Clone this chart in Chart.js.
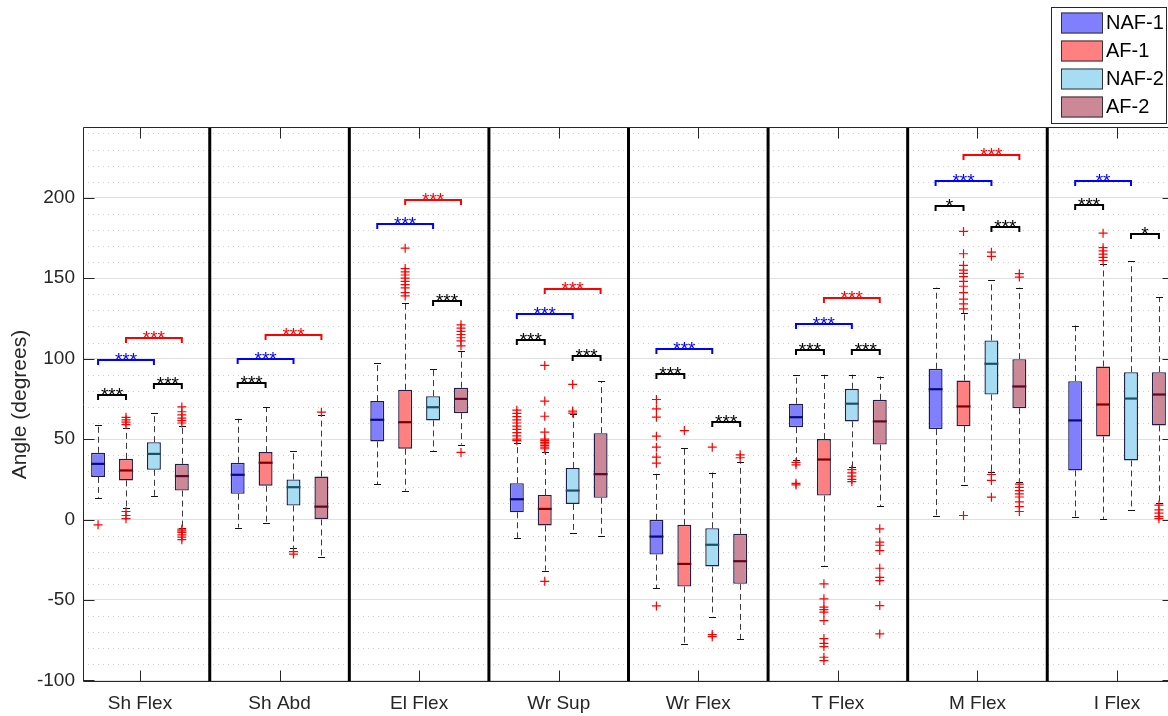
<!DOCTYPE html>
<html><head><meta charset="utf-8">
<script src="https://cdn.jsdelivr.net/npm/chart.js@4.4.1/dist/chart.umd.min.js"></script>
<style>
html,body{margin:0;padding:0;overflow:hidden;background:#fff;}
#wrap{position:relative;width:1180px;height:716px;}
</style></head><body>
<div id="wrap"><canvas id="c" width="1180" height="716"></canvas></div>
<script>
const categories = ['Sh Flex','Sh Abd','El Flex','Wr Sup','Wr Flex','T Flex','M Flex','I Flex'];
const groupNames = ['NAF-1','AF-1','NAF-2','AF-2'];
const yTickValues = [-100,-50,0,50,100,150,200];

// [lower whisker, Q1, median, Q3, upper whisker] per category
const naf1Stats = [
  [13.5,26.5,34.6,41.5,58.9],[-5,16,27.8,35.3,62.6],[22,48.5,62,73.6,97.2],[-11.4,4.5,12.6,22.6,47.5],
  [-42.7,-21.8,-10.6,-0.2,28.4],[37,57.4,63.6,72,90],[2.1,56.2,81,93.7,144.1],[1.5,30.5,61.6,86,120.6]];
const af1Stats = [
  [7,24.3,30.5,37.7,57],[-2,21,35.3,41.9,69.8],[18,44,60.5,80.7,134.8],[-31.7,-3.7,6.6,15.3,42.1],
  [-77.3,-41.7,-27.6,-3.3,44.6],[-28.8,14.9,37.3,50,90],[21.6,58,70.3,86.4,128.3],[0.4,51.6,71.5,95.1,159]];
const naf2Stats = [
  [14.5,30.9,40.8,48.1,66.4],[-18,8.7,20.1,24.9,42.9],[42.3,61.6,69.8,76.7,93.7],[-8.5,9.7,18,32.1,65.3],
  [-60.3,-29.2,-15.7,-5.4,29.2],[32.5,61,72,81.3,90],[29.4,77.7,96.8,111.3,148.6],[6.2,36.7,75.2,91.6,160.4]];
const af2Stats = [
  [-5,18,27,34.6,58],[-23,0,8,26.7,64.7],[46.6,66.1,75,81.9,104.5],[-10,13.5,28.2,53.7,85.8],
  [-74.2,-40,-25.9,-8.9,35.6],[8.1,46.6,61,74.4,88.9],[23.2,69.2,82.7,99.7,144.1],[10,58.5,77.7,91.6,138.3]];

const naf1Outliers = [[-3.3],[],[],[49,50,52,54,56,58,60,62,64,66,68],
  [74.6,68.8,63.6,51.8,45,38.8,35,-53.7],[35.5,34,22.5,21.5],[],[]];
const af1Outliers = [[59,60.5,62,63.5,5,2.5,0.5],[],[168.7,156,154,152,150,148,146,144,141,139],
  [95.8,73.6,64.2,54.3,50,49,48,47,46,45,44,-38.4],[55.3],
  [-40,-49.3,-54.5,-56,-57.6,-62.8,-74,-77,-79,-85.6,-87.7],
  [179.1,165.2,158,155,153,151,148,145,141,137,134,131,2.5],[178,169,167,165,163,161]];
const naf2Outliers = [[],[-20,-21.5],[],[84,67.4,66.2],[45,-71.5,-72.8],[31,29,27,25,23.5],
  [166.2,163.6,28,24.3,13.9],[]];
const af2Outliers = [[60,61.5,63,65,67,70,-6,-7,-8,-9.5,-11,-12.5],[66.7],[121,119,117,115,113,111,108,41.7],[],
  [40.2,38.4],[-5.8,-14,-16,-19.3,-30.3,-36,-38,-53.5,-71.1],[152.8,150.7,22,20,18,16,14,11,8,5],[9,6,4,2,0.5]];

// significance brackets
const bracketCats   = [0,0,0,0, 1,1,1, 2,2,2, 3,3,3,3, 4,4,4, 5,5,5,5, 6,6,6,6, 7,7,7];
const bracketFrom   = [0,2,0,1, 0,0,1, 1,0,2, 1,0,0,2, 0,0,2, 1,0,0,2, 1,0,0,2, 0,0,2];
const bracketTo     = [1,3,2,3, 1,2,3, 3,2,3, 3,2,1,3, 2,1,3, 3,2,1,3, 3,2,1,3, 2,1,3];
const bracketValues = [77.7,84,98.9,113, 84.8,99.5,114.4, 198.4,183.5,135.8, 143.5,127.9,111.8,101.8,
  105.9,90.2,60.8, 137.4,121.7,105.5,105.5, 226.6,210.6,194.7,181.6, 210.5,195.5,177.7];
const bracketLabels = ['***','***','***','***', '***','***','***', '***','***','***', '***','***','***','***',
  '***','***','***', '***','***','***','***', '***','***','*','***', '**','***','*'];
const bracketKinds  = ['k','k','b','r', 'k','b','r', 'r','b','k', 'r','b','k','k', 'b','k','k', 'r','b','k','k',
  'r','b','k','k', 'b','k','k'];

const allStats = [naf1Stats, af1Stats, naf2Stats, af2Stats];
const allOutliers = [naf1Outliers, af1Outliers, naf2Outliers, af2Outliers];
const fillColors = ['#8080ff','#ff8080','#a6ddf3','#cc8896'];
const medianColors = ['#0a0a78','#7a0000','#1c5064','#5a0a24'];
const boxBorder = '#1e1e4e';
const kindColor = {k:'#000000', b:'#0000ff', r:'#ff0000'};
const CAT_PCT = 0.8;
const groupOffset = g => (g - (groupNames.length - 1) / 2) * CAT_PCT / groupNames.length;

Chart.defaults.font.family = '"Liberation Sans", Arial, Helvetica, sans-serif';

const scatterSets = allOutliers.map((outs, g) => ({
  type: 'scatter',
  label: groupNames[g] + ' outliers',
  data: outs.flatMap((arr, c) => arr.map(v => ({x: c + 1 + groupOffset(g), y: v}))),
  pointStyle: 'cross', radius: 4.5, borderWidth: 1.2,
  borderColor: '#ff0000', backgroundColor: '#ff0000',
  order: 0
}));
const barSets = allStats.map((st, g) => ({
  type: 'bar',
  label: groupNames[g],
  data: st.map((s, c) => ({x: c + 1, y: [s[1], s[3]]})),
  backgroundColor: fillColors[g],
  borderColor: boxBorder, borderWidth: 1.4, borderSkipped: false,
  barPercentage: 0.5, categoryPercentage: CAT_PCT,
  order: 1
}));
const BAR0 = scatterSets.length;

const boxPlugin = {
  id: 'boxExtras',
  beforeDatasetsDraw(chart) {
    const {ctx, chartArea: a, scales: {x, y}} = chart;
    ctx.save();
    // minor dotted grid
    ctx.strokeStyle = '#cfcfcf'; ctx.lineWidth = 1; ctx.setLineDash([1, 4]);
    for (let v = -100; v <= 240; v += 10) {
      if (v % 50 === 0) continue;
      const py = Math.round(y.getPixelForValue(v)) + 0.5;
      ctx.beginPath(); ctx.moveTo(a.left, py); ctx.lineTo(a.right, py); ctx.stroke();
    }
    ctx.setLineDash([]);
    // category separators
    ctx.strokeStyle = '#000'; ctx.lineWidth = 3;
    for (let c = 1; c < categories.length; c++) {
      const px = x.getPixelForValue(c + 0.5);
      ctx.beginPath(); ctx.moveTo(px, a.top); ctx.lineTo(px, a.bottom); ctx.stroke();
    }
    // whiskers + caps
    allStats.forEach((st, g) => {
      const meta = chart.getDatasetMeta(BAR0 + g);
      st.forEach((s, c) => {
        const el = meta.data[c];
        const px = Math.round(el.x) + 0.5;
        const capW = el.width / 2;
        const yLo = y.getPixelForValue(s[0]), yQ1 = y.getPixelForValue(s[1]);
        const yQ3 = y.getPixelForValue(s[3]), yHi = y.getPixelForValue(s[4]);
        ctx.strokeStyle = '#3a3a3a'; ctx.lineWidth = 1; ctx.setLineDash([6, 4]);
        ctx.beginPath(); ctx.moveTo(px, yQ3); ctx.lineTo(px, yHi); ctx.stroke();
        ctx.beginPath(); ctx.moveTo(px, yQ1); ctx.lineTo(px, yLo); ctx.stroke();
        ctx.setLineDash([]); ctx.strokeStyle = '#111';
        ctx.beginPath(); ctx.moveTo(px - capW / 2, Math.round(yHi) + 0.5); ctx.lineTo(px + capW / 2, Math.round(yHi) + 0.5); ctx.stroke();
        ctx.beginPath(); ctx.moveTo(px - capW / 2, Math.round(yLo) + 0.5); ctx.lineTo(px + capW / 2, Math.round(yLo) + 0.5); ctx.stroke();
      });
    });
    ctx.restore();
  },
  afterDatasetsDraw(chart) {
    const {ctx, chartArea: a, scales: {x, y}} = chart;
    ctx.save();
    // medians
    allStats.forEach((st, g) => {
      const meta = chart.getDatasetMeta(BAR0 + g);
      st.forEach((s, c) => {
        const el = meta.data[c];
        const py = y.getPixelForValue(s[2]);
        ctx.strokeStyle = medianColors[g]; ctx.lineWidth = 2.2;
        ctx.beginPath(); ctx.moveTo(el.x - el.width / 2, py); ctx.lineTo(el.x + el.width / 2, py); ctx.stroke();
      });
    });
    // significance brackets
    ctx.font = '19px "Liberation Sans", Arial, sans-serif';
    ctx.textAlign = 'center'; ctx.textBaseline = 'alphabetic';
    bracketCats.forEach((c, i) => {
      const x1 = chart.getDatasetMeta(BAR0 + bracketFrom[i]).data[c].x;
      const x2 = chart.getDatasetMeta(BAR0 + bracketTo[i]).data[c].x;
      const py = Math.round(y.getPixelForValue(bracketValues[i]));
      const col = kindColor[bracketKinds[i]];
      ctx.strokeStyle = col; ctx.fillStyle = col; ctx.lineWidth = 2;
      ctx.beginPath(); ctx.moveTo(x1, py + 5); ctx.lineTo(x1, py); ctx.lineTo(x2, py); ctx.lineTo(x2, py + 5); ctx.stroke();
      ctx.fillText(bracketLabels[i], (x1 + x2) / 2, py + 5.5);
    });
    // axes box and inward ticks
    ctx.strokeStyle = '#262626'; ctx.lineWidth = 1;
    const L = Math.round(a.left) + 0.5, T = Math.round(a.top) + 0.5, B = Math.round(a.bottom) - 0.5, R = Math.round(a.right) - 0.5;
    ctx.beginPath(); ctx.moveTo(L, T); ctx.lineTo(L, B); ctx.lineTo(R, B); ctx.lineTo(R, T); ctx.lineTo(L, T); ctx.stroke();
    yTickValues.forEach(v => {
      const py = Math.round(y.getPixelForValue(v)) + 0.5;
      ctx.beginPath(); ctx.moveTo(L, py); ctx.lineTo(L + 11, py); ctx.stroke();
      ctx.beginPath(); ctx.moveTo(R, py); ctx.lineTo(R - 11, py); ctx.stroke();
    });
    categories.forEach((_, c) => {
      const px = Math.round(x.getPixelForValue(c + 1)) + 0.5;
      ctx.beginPath(); ctx.moveTo(px, B); ctx.lineTo(px, B - 11); ctx.stroke();
      ctx.beginPath(); ctx.moveTo(px, T); ctx.lineTo(px, T + 11); ctx.stroke();
    });
    ctx.restore();
  },
  afterDraw(chart) {
    const {ctx} = chart;
    ctx.save();
    // legend
    ctx.fillStyle = '#fff'; ctx.fillRect(1051, 7, 116, 117);
    ctx.strokeStyle = '#262626'; ctx.lineWidth = 1;
    ctx.strokeRect(1051.5, 7.5, 115, 116);
    ctx.font = '20px "Liberation Sans", Arial, sans-serif';
    ctx.textAlign = 'left'; ctx.textBaseline = 'middle';
    groupNames.forEach((name, g) => {
      const top = 12.5 + g * 28;
      ctx.fillStyle = fillColors[g];
      ctx.fillRect(1061, top, 42, 21);
      ctx.strokeStyle = '#333'; ctx.strokeRect(1061.5, top + 0.5, 41, 20);
      ctx.fillStyle = '#000';
      ctx.fillText(name, 1106, top + 11);
    });
    ctx.restore();
  }
};

new Chart(document.getElementById('c'), {
  type: 'bar',
  data: {datasets: [...scatterSets, ...barSets]},
  options: {
    responsive: false, animation: false, devicePixelRatio: 1,
    layout: {padding: {top: 127, right: 6, bottom: 0, left: 0}},
    plugins: {legend: {display: false}, tooltip: {enabled: false}},
    scales: {
      x: {
        type: 'linear', min: 0.592, max: 8.408, offset: false,
        grid: {display: false, drawTicks: false},
        border: {display: false},
        afterBuildTicks: s => { s.ticks = categories.map((_, i) => ({value: i + 1})); },
        ticks: {callback: v => categories[Math.round(v) - 1] || '', font: {size: 19}, color: '#262626',
                padding: 10, maxRotation: 0, autoSkip: false},
        afterFit: s => { s.height = 34; }
      },
      y: {
        type: 'linear', min: -101, max: 244,
        afterBuildTicks: s => { s.ticks = yTickValues.map(v => ({value: v})); },
        grid: {color: '#e0e0e0', drawTicks: false, lineWidth: 1},
        border: {display: false},
        ticks: {font: {size: 19}, color: '#262626', padding: 8},
        title: {display: true, text: 'Angle (degrees)', font: {size: 21}, color: '#262626', padding: {top: 8, bottom: 0}},
        afterFit: s => { s.width = 83; }
      }
    }
  },
  plugins: [boxPlugin]
});
</script>
</body></html>
